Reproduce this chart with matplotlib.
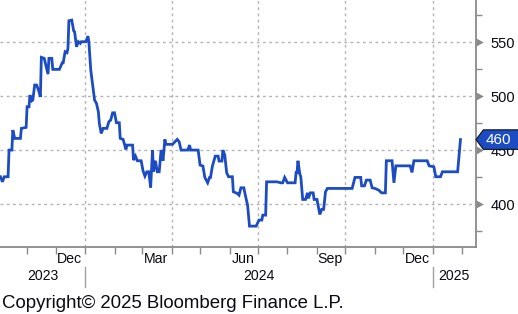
import matplotlib
matplotlib.use("Agg")
import matplotlib.pyplot as plt
import matplotlib.dates as mdates
import matplotlib.transforms as mtransforms
from matplotlib.path import Path
from matplotlib.ticker import FixedLocator, NullFormatter
import pandas as pd

plt.rcParams['font.family'] = ['Liberation Sans', 'DejaVu Sans']

# ---- data ----
dates = [
    "2023-10-04", "2023-10-06", "2023-10-08", "2023-10-12", "2023-10-13", "2023-10-16",
    "2023-10-17", "2023-10-19", "2023-10-25", "2023-10-26", "2023-10-31", "2023-11-01",
    "2023-11-03", "2023-11-04", "2023-11-06", "2023-11-07", "2023-11-09", "2023-11-11",
    "2023-11-13", "2023-11-15", "2023-11-16", "2023-11-19", "2023-11-23", "2023-11-24",
    "2023-11-27", "2023-11-28", "2023-12-05", "2023-12-08", "2023-12-09", "2023-12-11",
    "2023-12-13", "2023-12-14", "2023-12-15", "2023-12-18", "2023-12-20", "2023-12-21",
    "2023-12-23", "2023-12-25", "2023-12-27", "2023-12-28", "2024-01-02", "2024-01-04",
    "2024-01-05", "2024-01-07", "2024-01-09", "2024-01-11", "2024-01-13", "2024-01-15",
    "2024-01-16", "2024-01-18", "2024-01-20", "2024-01-24", "2024-01-26", "2024-01-28",
    "2024-01-30", "2024-02-01", "2024-02-03", "2024-02-06", "2024-02-07", "2024-02-10",
    "2024-02-13", "2024-02-14", "2024-02-20", "2024-02-21", "2024-02-23", "2024-02-25",
    "2024-02-29", "2024-03-02", "2024-03-04", "2024-03-06", "2024-03-08", "2024-03-10",
    "2024-03-12", "2024-03-13", "2024-03-15", "2024-03-17", "2024-03-19", "2024-03-21",
    "2024-03-22", "2024-03-23", "2024-03-25", "2024-03-26", "2024-04-02", "2024-04-07",
    "2024-04-09", "2024-04-11", "2024-04-18", "2024-04-20", "2024-04-21", "2024-04-29",
    "2024-05-01", "2024-05-04", "2024-05-06", "2024-05-09", "2024-05-11", "2024-05-12",
    "2024-05-14", "2024-05-17", "2024-05-20", "2024-05-21", "2024-05-24", "2024-05-25",
    "2024-05-27", "2024-05-29", "2024-05-31", "2024-06-04", "2024-06-05", "2024-06-09",
    "2024-06-11", "2024-06-13", "2024-06-16", "2024-06-18", "2024-06-20", "2024-06-22",
    "2024-06-29", "2024-07-02", "2024-07-05", "2024-07-06", "2024-07-09", "2024-07-10",
    "2024-07-21", "2024-07-25", "2024-07-27", "2024-07-29", "2024-08-01", "2024-08-09",
    "2024-08-10", "2024-08-11", "2024-08-12", "2024-08-14", "2024-08-15", "2024-08-17",
    "2024-08-20", "2024-08-22", "2024-08-23", "2024-08-25", "2024-08-28", "2024-08-29",
    "2024-09-01", "2024-09-04", "2024-09-06", "2024-09-08", "2024-09-10", "2024-09-12",
    "2024-10-08", "2024-10-11", "2024-10-17", "2024-10-18", "2024-10-21", "2024-10-23",
    "2024-10-27", "2024-10-29", "2024-11-01", "2024-11-05", "2024-11-08", "2024-11-12",
    "2024-11-13", "2024-11-19", "2024-11-21", "2024-11-23", "2024-12-08", "2024-12-10",
    "2024-12-12", "2024-12-26", "2024-12-28", "2025-01-02", "2025-01-04", "2025-01-09",
    "2025-01-11", "2025-01-27", "2025-01-30",
]
values = [
    425.6, 420.9, 425.6, 425.6, 450.3, 450.3,
    468.8, 461.1, 461.1, 470.4, 471.3, 490.4,
    490.4, 501.2, 495.9, 496.6, 510.5, 510.5,
    505.8, 499.6, 536.1, 535.2, 520.6, 535.2,
    535.2, 525.0, 525.0, 531.1, 531.1, 541.3,
    540.4, 544.4, 570.0, 570.6, 560.7, 559.8,
    545.9, 550.6, 549.1, 550.6, 550.6, 555.8,
    550.6, 524.4, 510.5, 496.6, 493.5, 485.7,
    475.0, 465.7, 470.4, 470.4, 476.5, 478.1,
    484.8, 484.8, 475.6, 475.6, 461.1, 460.2,
    450.9, 454.9, 454.9, 441.0, 444.7, 440.4,
    440.4, 431.1, 426.2, 430.2, 430.2, 415.7,
    450.3, 430.2, 440.4, 430.2, 430.2, 450.3,
    446.6, 440.4, 460.2, 455.6, 455.6, 460.2,
    458.0, 450.3, 450.3, 454.9, 450.3, 450.3,
    436.4, 435.5, 425.0, 420.0, 425.0, 425.0,
    435.5, 444.7, 444.7, 440.1, 440.1, 450.3,
    445.6, 429.3, 425.6, 425.6, 411.7, 410.2,
    408.6, 415.4, 415.4, 407.0, 399.4, 379.9,
    379.9, 385.5, 385.5, 390.1, 390.1, 420.9,
    420.9, 420.0, 420.0, 425.0, 420.0, 420.0,
    429.3, 429.3, 440.4, 428.1, 425.6, 404.6,
    404.6, 410.7, 405.6, 410.7, 410.7, 404.6,
    404.6, 390.7, 395.4, 395.4, 411.7, 414.8,
    414.8, 425.0, 425.0, 417.2, 417.2, 422.5,
    422.5, 415.4, 414.8, 413.2, 410.7, 410.7,
    440.4, 440.4, 420.0, 435.7, 435.7, 429.6,
    440.4, 440.4, 435.7, 434.8, 425.6, 425.6,
    430.2, 430.2, 460.0,
]
y_major = [400, 450, 500, 550]
y_minor = [375, 425, 475, 525, 575]
month_labels = ["Dec", "Mar", "Jun", "Sep", "Dec"]
month_label_dates = ["2023-12-16", "2024-03-16", "2024-06-15", "2024-09-15", "2024-12-16"]
years = ["2023", "2024", "2025"]
year_starts = ["2024-01-01", "2025-01-01"]
x_start, x_end = "2023-10-03 12:00", "2025-02-15"

line_c = '#1c4cc3'
axis_c = '#8a8a8a'
text_c = '#0a0a14'

# ---- figure ----
fig = plt.figure(figsize=(5.18, 3.14), dpi=100)
ax = fig.add_axes([0, 0.2124, 0.9183, 0.7876])

x = pd.to_datetime(dates)
ax.plot(x, values, color=line_c, lw=2.0, solid_joinstyle='miter', zorder=3)

x0, x1 = pd.Timestamp(x_start), pd.Timestamp(x_end)
ax.set_xlim(x0, x1)
ax.set_ylim(360.3, 589.2)

for s in ['top', 'left']:
    ax.spines[s].set_visible(False)
for s in ['right', 'bottom']:
    ax.spines[s].set_color(axis_c)
    ax.spines[s].set_linewidth(1.3)

# y axis on the right
ax.yaxis.tick_right()
ax.yaxis.set_major_locator(FixedLocator(y_major))
ax.yaxis.set_minor_locator(FixedLocator(y_minor))
ax.tick_params(axis='y', which='major', length=0, pad=10.5, labelsize=10.5, labelcolor=text_c)
ax.tick_params(axis='y', which='minor', length=4, width=1, color=axis_c, direction='out')

# triangle markers on the right axis at major ticks
tri = Path([(0, -0.55), (1, 0), (0, 0.55), (0, -0.55)])
ytrans = mtransforms.blended_transform_factory(ax.transAxes, ax.transData)
ax.scatter([1] * len(y_major), y_major, marker=tri, s=110, color=axis_c,
           transform=ytrans, clip_on=False, zorder=5, linewidths=0)

# x axis: month ticks, quarter gridlines
ax.xaxis.set_major_locator(mdates.MonthLocator(bymonth=[1, 4, 7, 10]))
ax.xaxis.set_minor_locator(mdates.MonthLocator())
ax.xaxis.set_major_formatter(NullFormatter())
ax.xaxis.set_minor_formatter(NullFormatter())
ax.tick_params(axis='x', which='both', length=5, width=1, color=axis_c, direction='out')

ax.grid(True, which='major', color='#b4b4b4', lw=1.0, ls=(0, (2, 2.5)))
ax.set_axisbelow(True)

xtrans = mtransforms.blended_transform_factory(ax.transData, ax.transAxes)
for lab, d in zip(month_labels, month_label_dates):
    ax.text(pd.Timestamp(d), -0.047, lab, transform=xtrans, ha='center', va='center',
            fontsize=10.2, color=text_c)

bounds = [x0] + [pd.Timestamp(d) for d in year_starts] + [x1]
for i, yr in enumerate(years):
    mid = bounds[i] + (bounds[i + 1] - bounds[i]) / 2
    ax.text(mid, -0.118, yr, transform=xtrans, ha='center', va='center',
            fontsize=10.2, color=text_c)
for d in year_starts:
    ax.plot([pd.Timestamp(d)] * 2, [-0.08, -0.16], color='#a0a0a0', lw=1,
            transform=xtrans, clip_on=False)

# last value tag
def tag_box(bx0, by0, width, height, mutation_size):
    pad = mutation_size * 0.18
    bx0, by0 = bx0 - pad, by0 - pad
    bx1, by1 = bx0 + width + 2 * pad + 20, by0 + height + 2 * pad
    dx = (by1 - by0) / 2 * 0.75
    return Path([(bx0, by0), (bx1, by0), (bx1, by1), (bx0, by1),
                 (bx0 - dx, (by0 + by1) / 2), (bx0, by0)], closed=True)

ax.annotate(f"{values[-1]:.0f}", xy=(1, values[-1]), xycoords=ytrans,
            xytext=(7.5, 0), textcoords='offset points', ha='left', va='center',
            fontsize=11, color='white', zorder=6, annotation_clip=False,
            bbox=dict(boxstyle=tag_box, fc=line_c, ec='#101010', lw=0.8))

fig.text(0.004, 0.019, "Copyright\u00a9 2025 Bloomberg Finance L.P.", ha='left',
         va='baseline', fontsize=13.4, color=text_c)

fig.savefig("out.png", dpi=100)
